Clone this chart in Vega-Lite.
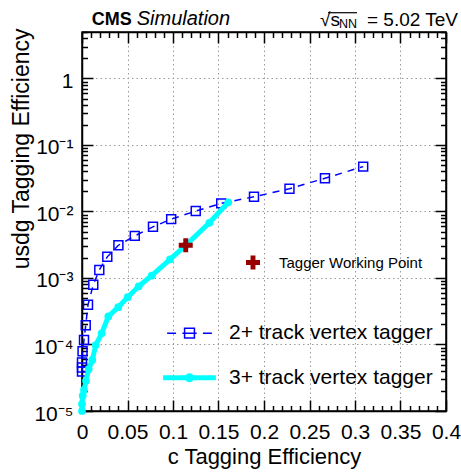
{
  "$schema": "https://vega.github.io/schema/vega-lite/v6.json",
  "width": 364,
  "height": 379,
  "autosize": {"type": "none"},
  "padding": {"left": 82, "top": 32, "right": 15, "bottom": 61},
  "background": "white",
  "config": {
    "font": "Liberation Sans",
    "view": {"stroke": "black", "strokeWidth": 1.5},
    "axis": {
      "domainColor": "black",
      "domainWidth": 1.5,
      "tickColor": "black",
      "tickWidth": 1.5,
      "tickSize": -11,
      "labelFont": "Liberation Sans",
      "labelFontSize": 21,
      "labelColor": "black",
      "labelOverlap": false,
      "labelFlush": false,
      "titleFont": "Liberation Sans",
      "titleFontSize": 22,
      "titleFontWeight": "normal",
      "titleColor": "black",
      "gridColor": "#999999",
      "gridDash": [1.5, 3],
      "gridWidth": 1
    }
  },
  "datasets": {
    "roc": [
      {"tagger": "2+ track vertex tagger", "c_eff": 0.0, "usdg_eff": 3.93e-5},
      {"tagger": "2+ track vertex tagger", "c_eff": 0.0, "usdg_eff": 4.5e-5},
      {"tagger": "2+ track vertex tagger", "c_eff": 0.0, "usdg_eff": 5.37e-5},
      {"tagger": "2+ track vertex tagger", "c_eff": 0.0006, "usdg_eff": 7.9e-5},
      {"tagger": "2+ track vertex tagger", "c_eff": 0.0022, "usdg_eff": 1.17e-4},
      {"tagger": "2+ track vertex tagger", "c_eff": 0.0041, "usdg_eff": 1.95e-4},
      {"tagger": "2+ track vertex tagger", "c_eff": 0.0066, "usdg_eff": 3.95e-4},
      {"tagger": "2+ track vertex tagger", "c_eff": 0.0124, "usdg_eff": 7.92e-4},
      {"tagger": "2+ track vertex tagger", "c_eff": 0.019, "usdg_eff": 1.32e-3},
      {"tagger": "2+ track vertex tagger", "c_eff": 0.0278, "usdg_eff": 2.08e-3},
      {"tagger": "2+ track vertex tagger", "c_eff": 0.040, "usdg_eff": 3.11e-3},
      {"tagger": "2+ track vertex tagger", "c_eff": 0.058, "usdg_eff": 4.30e-3},
      {"tagger": "2+ track vertex tagger", "c_eff": 0.078, "usdg_eff": 5.88e-3},
      {"tagger": "2+ track vertex tagger", "c_eff": 0.098, "usdg_eff": 7.67e-3},
      {"tagger": "2+ track vertex tagger", "c_eff": 0.125, "usdg_eff": 1.014e-2},
      {"tagger": "2+ track vertex tagger", "c_eff": 0.153, "usdg_eff": 1.324e-2},
      {"tagger": "2+ track vertex tagger", "c_eff": 0.189, "usdg_eff": 1.667e-2},
      {"tagger": "2+ track vertex tagger", "c_eff": 0.228, "usdg_eff": 2.20e-2},
      {"tagger": "2+ track vertex tagger", "c_eff": 0.267, "usdg_eff": 3.16e-2},
      {"tagger": "2+ track vertex tagger", "c_eff": 0.309, "usdg_eff": 4.73e-2},
      {"tagger": "3+ track vertex tagger", "c_eff": 0.0, "usdg_eff": 1.0e-5},
      {"tagger": "3+ track vertex tagger", "c_eff": 0.0, "usdg_eff": 1.27e-5},
      {"tagger": "3+ track vertex tagger", "c_eff": 0.0008, "usdg_eff": 1.70e-5},
      {"tagger": "3+ track vertex tagger", "c_eff": 0.0022, "usdg_eff": 2.07e-5},
      {"tagger": "3+ track vertex tagger", "c_eff": 0.0044, "usdg_eff": 2.85e-5},
      {"tagger": "3+ track vertex tagger", "c_eff": 0.0074, "usdg_eff": 4.27e-5},
      {"tagger": "3+ track vertex tagger", "c_eff": 0.0113, "usdg_eff": 5.85e-5},
      {"tagger": "3+ track vertex tagger", "c_eff": 0.0151, "usdg_eff": 9.8e-5},
      {"tagger": "3+ track vertex tagger", "c_eff": 0.0216, "usdg_eff": 1.47e-4},
      {"tagger": "3+ track vertex tagger", "c_eff": 0.0289, "usdg_eff": 2.64e-4},
      {"tagger": "3+ track vertex tagger", "c_eff": 0.0399, "usdg_eff": 3.64e-4},
      {"tagger": "3+ track vertex tagger", "c_eff": 0.0502, "usdg_eff": 5.15e-4},
      {"tagger": "3+ track vertex tagger", "c_eff": 0.0623, "usdg_eff": 7.5e-4},
      {"tagger": "3+ track vertex tagger", "c_eff": 0.0766, "usdg_eff": 1.09e-3},
      {"tagger": "3+ track vertex tagger", "c_eff": 0.0967, "usdg_eff": 1.90e-3},
      {"tagger": "3+ track vertex tagger", "c_eff": 0.114, "usdg_eff": 3.1e-3},
      {"tagger": "3+ track vertex tagger", "c_eff": 0.140, "usdg_eff": 6.77e-3},
      {"tagger": "3+ track vertex tagger", "c_eff": 0.1608, "usdg_eff": 1.375e-2}
    ],
    "wp": [
      {"label": "Tagger Working Point", "c_eff": 0.114, "usdg_eff": 3.1e-3}
    ],
    "banner": [
      {"kind": "header"}
    ]
  },
  "resolve": {"axis": {"x": "independent", "y": "independent"}},
  "layer": [
    {
      "encoding": {
        "x": {
          "field": "c_eff",
          "type": "quantitative",
          "scale": {"domain": [0, 0.4], "nice": false, "zero": false},
          "axis": {
            "orient": "bottom",
            "values": [0, 0.01, 0.02, 0.03, 0.04, 0.05, 0.06, 0.07, 0.08, 0.09, 0.1, 0.11, 0.12, 0.13, 0.14, 0.15, 0.16, 0.17, 0.18, 0.19, 0.2, 0.21, 0.22, 0.23, 0.24, 0.25, 0.26, 0.27, 0.28, 0.29, 0.3, 0.31, 0.32, 0.33, 0.34, 0.35, 0.36, 0.37, 0.38, 0.39, 0.4],
            "format": "~g",
            "labelExpr": "abs(datum.value*20 - round(datum.value*20)) > 0.01 ? '' : datum.label",
            "labelPadding": 21,
            "grid": true,
            "gridOpacity": {"condition": {"test": "abs(datum.value*20 - round(datum.value*20)) > 0.01", "value": 0}, "value": 1},
            "tickDash": {"condition": {"test": "abs(datum.value*20 - round(datum.value*20)) > 0.01", "value": [5.5, 30]}, "value": []},
            "title": "c Tagging Efficiency",
            "titleBaseline": "alphabetic",
            "titleY": 52
          }
        },
        "y": {
          "field": "usdg_eff",
          "type": "quantitative",
          "scale": {"type": "log", "domain": [1e-5, 5], "nice": false},
          "axis": {
            "orient": "left",
            "values": [1e-5, 2e-5, 3e-5, 4e-5, 5e-5, 6e-5, 7e-5, 8e-5, 9e-5, 1e-4, 2e-4, 3e-4, 4e-4, 5e-4, 6e-4, 7e-4, 8e-4, 9e-4, 0.001, 0.002, 0.003, 0.004, 0.005, 0.006, 0.007, 0.008, 0.009, 0.01, 0.02, 0.03, 0.04, 0.05, 0.06, 0.07, 0.08, 0.09, 0.1, 0.2, 0.3, 0.4, 0.5, 0.6, 0.7, 0.8, 0.9, 1, 2, 3, 4, 5],
            "labelExpr": "abs(log(datum.value)/LN10 - round(log(datum.value)/LN10)) > 0.01 ? '' : (round(log(datum.value)/LN10) == 0 ? '1' : '10' + ['⁻⁵', '⁻⁴', '⁻³', '⁻²', '⁻¹'][round(log(datum.value)/LN10) + 5])",
            "labelPadding": 20,
            "labelOffset": 3,
            "labelBaseline": "middle",
            "grid": true,
            "gridOpacity": {"condition": {"test": "abs(log(datum.value)/LN10 - round(log(datum.value)/LN10)) > 0.01", "value": 0}, "value": 1},
            "tickDash": {"condition": {"test": "abs(log(datum.value)/LN10 - round(log(datum.value)/LN10)) > 0.01", "value": [5.5, 30]}, "value": []},
            "title": "usdg Tagging Efficiency",
            "titleFontSize": 23,
            "titleAngle": -90,
            "titleAlign": "right",
            "titleBaseline": "alphabetic",
            "titleX": -54,
            "titleY": -4
          }
        }
      },
      "layer": [
        {
          "data": {"name": "roc"},
          "transform": [{"filter": "datum.tagger === '2+ track vertex tagger'"}],
          "mark": {"type": "line", "strokeDash": [7, 6], "strokeWidth": 1.5},
          "encoding": {
            "order": {"value": null},
            "color": {
              "field": "tagger",
              "type": "nominal",
              "scale": {"domain": ["2+ track vertex tagger", "3+ track vertex tagger"], "range": ["#0000ff", "#00ffff"]},
              "legend": {
                "orient": "none",
                "legendX": 97,
                "legendY": 290.7,
                "title": null,
                "direction": "vertical",
                "padding": 0,
                "symbolSize": 2000,
                "labelFont": "Liberation Sans",
                "labelFontSize": 21,
                "labelColor": "black",
                "labelLimit": 0,
                "labelOffset": 29,
                "rowPadding": 21.6,
                "encode": {
                  "symbols": {
                    "update": {
                      "shape": {"signal": "datum.value === '2+ track vertex tagger' ? 'M-1,0H-0.6M-0.32,0H0.32M0.6,0H1M-0.22,-0.22H0.22V0.22H-0.22Z' : 'M-1.18,0H1.18M-0.09,0A0.09,0.09 0 1 0 0.09,0A0.09,0.09 0 1 0 -0.09,0Z'"},
                      "fill": {"signal": "datum.value === '2+ track vertex tagger' ? 'transparent' : '#00ffff'"},
                      "stroke": {"signal": "datum.value === '2+ track vertex tagger' ? '#0000ff' : '#00ffff'"},
                      "strokeWidth": {"signal": "datum.value === '2+ track vertex tagger' ? 1.5 : 5"},
                      "strokeDash": {"value": []},
                      "opacity": {"value": 1}
                    }
                  }
                }
              }
            }
          }
        },
        {
          "data": {"name": "roc"},
          "transform": [{"filter": "datum.tagger === '2+ track vertex tagger'"}],
          "mark": {"type": "point", "shape": "square", "filled": false, "color": "#0000ff", "strokeWidth": 1.5, "size": 80, "opacity": 1}
        },
        {
          "data": {"name": "roc"},
          "transform": [{"filter": "datum.tagger === '3+ track vertex tagger'"}],
          "mark": {"type": "line", "strokeWidth": 5},
          "encoding": {
            "order": {"value": null},
            "color": {
              "field": "tagger",
              "type": "nominal",
              "scale": {"domain": ["2+ track vertex tagger", "3+ track vertex tagger"], "range": ["#0000ff", "#00ffff"]}
            }
          }
        },
        {
          "data": {"name": "roc"},
          "transform": [{"filter": "datum.tagger === '3+ track vertex tagger'"}],
          "mark": {"type": "circle", "color": "#00ffff", "size": 60, "opacity": 1}
        },
        {
          "data": {"name": "wp"},
          "mark": {"type": "point", "filled": true, "color": "#990000", "size": 196, "opacity": 1},
          "encoding": {
            "shape": {
              "field": "label",
              "type": "nominal",
              "scale": {"domain": ["Tagger Working Point"], "range": ["M-0.35,-1H0.35V-0.35H1V0.35H0.35V1H-0.35V0.35H-1V-0.35H-0.35Z"]},
              "legend": {
                "orient": "none",
                "legendX": 163.5,
                "legendY": 223,
                "title": null,
                "padding": 0,
                "symbolSize": 196,
                "symbolFillColor": "#990000",
                "symbolStrokeWidth": 0,
                "symbolOpacity": 1,
                "labelFont": "Liberation Sans",
                "labelFontSize": 15,
                "labelColor": "black",
                "labelLimit": 0,
                "labelOffset": 18.5
              }
            }
          }
        }
      ]
    },
    {
      "data": {"name": "roc"},
      "mark": {"type": "point", "opacity": 0},
      "encoding": {
        "x": {
          "field": "c_eff",
          "type": "quantitative",
          "scale": {"domain": [0, 0.4], "nice": false, "zero": false},
          "axis": {
            "orient": "top",
            "values": [0, 0.01, 0.02, 0.03, 0.04, 0.05, 0.06, 0.07, 0.08, 0.09, 0.1, 0.11, 0.12, 0.13, 0.14, 0.15, 0.16, 0.17, 0.18, 0.19, 0.2, 0.21, 0.22, 0.23, 0.24, 0.25, 0.26, 0.27, 0.28, 0.29, 0.3, 0.31, 0.32, 0.33, 0.34, 0.35, 0.36, 0.37, 0.38, 0.39, 0.4],
            "labels": false,
            "grid": false,
            "title": null,
            "tickDash": {"condition": {"test": "abs(datum.value*20 - round(datum.value*20)) > 0.01", "value": [5.5, 30]}, "value": []}
          }
        },
        "y": {
          "field": "usdg_eff",
          "type": "quantitative",
          "scale": {"type": "log", "domain": [1e-5, 5], "nice": false},
          "axis": {
            "orient": "right",
            "values": [1e-5, 2e-5, 3e-5, 4e-5, 5e-5, 6e-5, 7e-5, 8e-5, 9e-5, 1e-4, 2e-4, 3e-4, 4e-4, 5e-4, 6e-4, 7e-4, 8e-4, 9e-4, 0.001, 0.002, 0.003, 0.004, 0.005, 0.006, 0.007, 0.008, 0.009, 0.01, 0.02, 0.03, 0.04, 0.05, 0.06, 0.07, 0.08, 0.09, 0.1, 0.2, 0.3, 0.4, 0.5, 0.6, 0.7, 0.8, 0.9, 1, 2, 3, 4, 5],
            "labels": false,
            "grid": false,
            "title": null,
            "tickDash": {"condition": {"test": "abs(log(datum.value)/LN10 - round(log(datum.value)/LN10)) > 0.01", "value": [5.5, 30]}, "value": []}
          }
        }
      }
    },
    {
      "data": {"name": "banner"},
      "mark": {"type": "text", "text": "CMS", "font": "Liberation Sans", "fontWeight": "bold", "fontSize": 18, "align": "left", "baseline": "alphabetic", "dy": -7, "color": "black"},
      "encoding": {"x": {"datum": 0.0107, "scale": {"domain": [0, 0.4], "nice": false, "zero": false}, "axis": null}, "y": {"datum": 5, "scale": {"type": "log", "domain": [1e-5, 5], "nice": false}, "axis": null}}
    },
    {
      "data": {"name": "banner"},
      "mark": {"type": "text", "text": "Simulation", "font": "Liberation Sans", "fontStyle": "italic", "fontSize": 20, "align": "left", "baseline": "alphabetic", "dy": -7, "color": "black"},
      "encoding": {"x": {"datum": 0.0601, "axis": null}, "y": {"datum": 5, "axis": null}}
    },
    {
      "data": {"name": "banner"},
      "mark": {"type": "text", "text": "√s", "font": "Liberation Sans", "fontSize": 19, "align": "right", "baseline": "alphabetic", "dy": -6, "color": "black"},
      "encoding": {"x": {"datum": 0.2835, "axis": null}, "y": {"datum": 5, "axis": null}}
    },
    {
      "data": {"name": "banner"},
      "mark": {"type": "text", "text": "NN", "font": "Liberation Sans", "fontSize": 12.5, "align": "right", "baseline": "alphabetic", "dy": -4.5, "color": "black"},
      "encoding": {"x": {"datum": 0.3022, "axis": null}, "y": {"datum": 5, "axis": null}}
    },
    {
      "data": {"name": "banner"},
      "mark": {"type": "text", "text": "= 5.02 TeV", "font": "Liberation Sans", "fontSize": 19, "align": "right", "baseline": "alphabetic", "dy": -6, "color": "black"},
      "encoding": {"x": {"datum": 0.4132, "axis": null}, "y": {"datum": 5, "axis": null}}
    },
    {
      "data": {"name": "banner"},
      "mark": {"type": "rule", "color": "black", "strokeWidth": 1.2},
      "encoding": {"x": {"datum": 0.2703, "axis": null}, "x2": {"datum": 0.3022}, "y": {"datum": 9.75, "axis": null}}
    }
  ]
}
